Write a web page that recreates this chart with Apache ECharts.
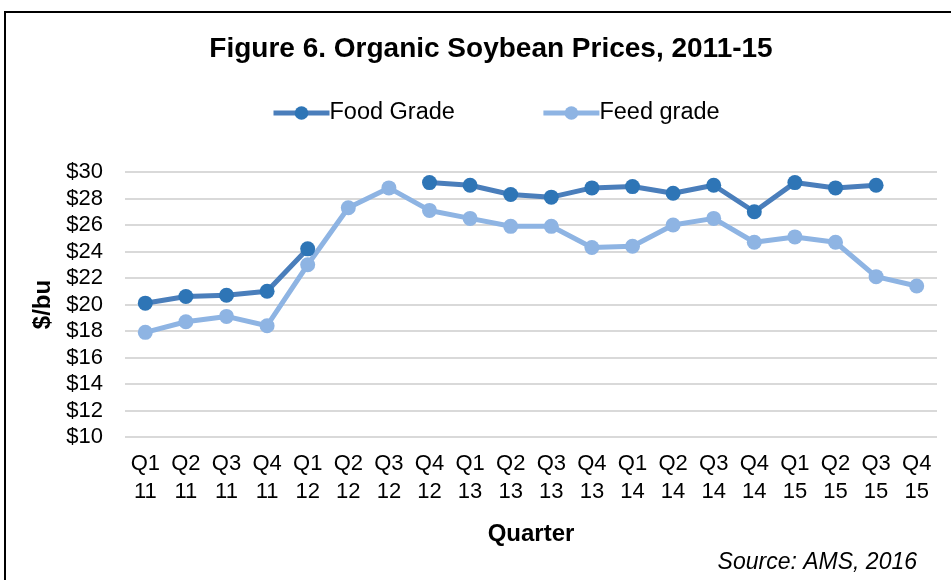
<!DOCTYPE html>
<html>
<head>
<meta charset="utf-8">
<script src="https://cdn.jsdelivr.net/npm/echarts@6/dist/echarts.min.js"></script>
<style>
  html, body { margin: 0; padding: 0; background: #fff; }
  #chart { width: 951px; height: 580px; }
</style>
</head>
<body>
<div id="chart"></div>
<script>
// quarters as shown under the axis
const quarters = ['Q1\n11', 'Q2\n11', 'Q3\n11', 'Q4\n11', 'Q1\n12', 'Q2\n12', 'Q3\n12', 'Q4\n12',
  'Q1\n13', 'Q2\n13', 'Q3\n13', 'Q4\n13', 'Q1\n14', 'Q2\n14', 'Q3\n14', 'Q4\n14',
  'Q1\n15', 'Q2\n15', 'Q3\n15', 'Q4\n15'];

// $/bu, null where there is no price
const foodGrade = [20.1, 20.6, 20.7, 21.0, 24.2, null, null, 29.2,
  29.0, 28.3, 28.1, 28.8, 28.9, 28.4, 29.0, 27.0,
  29.2, 28.8, 29.0, null];
const feedGrade = [17.9, 18.7, 19.1, 18.4, 23.0, 27.3, 28.8, 27.1,
  26.5, 25.9, 25.9, 24.3, 24.4, 26.0, 26.5, 24.7,
  25.1, 24.7, 22.1, 21.4];

const font = 'Liberation Sans, Arial, sans-serif';

const chart = echarts.init(document.getElementById('chart'));

chart.setOption({
  animation: false,
  textStyle: { fontFamily: font, color: '#000' },
  title: {
    text: 'Figure 6. Organic Soybean Prices, 2011-15',
    left: 486,
    top: 30,
    textAlign: 'center',
    textStyle: { fontFamily: font, fontSize: 28, fontWeight: 'bold', color: '#000' },
  },
  legend: {
    top: 96,
    left: 266,
    itemWidth: 56,
    itemHeight: 17,
    itemGap: 86,
    lineStyle: { width: 5 },
    textStyle: { fontFamily: font, fontSize: 23.5, color: '#000', padding: [0, 0, 0, -5] },
  },
  grid: {
    left: 125,
    right: 14,
    top: 172,
    bottom: 143,
  },
  xAxis: {
    type: 'category',
    data: quarters,
    name: 'Quarter',
    nameLocation: 'middle',
    nameGap: 85,
    nameTextStyle: { fontFamily: font, fontSize: 24, fontWeight: 'bold', color: '#000' },
    axisLine: { show: false },
    axisTick: { show: false },
    axisLabel: {
      interval: 0,
      fontFamily: font,
      fontSize: 22,
      lineHeight: 28,
      color: '#000',
      margin: 13,
    },
  },
  yAxis: {
    type: 'value',
    min: 10,
    max: 30,
    interval: 2,
    name: '$/bu',
    nameLocation: 'middle',
    nameRotate: 90,
    nameGap: 70,
    nameTextStyle: { fontFamily: font, fontSize: 24, fontWeight: 'bold', color: '#000' },
    axisLine: { show: false },
    axisTick: { show: false },
    splitLine: { lineStyle: { color: '#d9d9d9', width: 2 } },
    axisLabel: {
      formatter: '${value}',
      fontFamily: font,
      fontSize: 22,
      color: '#000',
      margin: 22,
    },
  },
  series: [
    {
      name: 'Food Grade',
      type: 'line',
      data: foodGrade,
      symbol: 'circle',
      symbolSize: 15,
      lineStyle: { color: '#4a7ebb', width: 5 },
      itemStyle: { color: '#2e75b6' },
    },
    {
      name: 'Feed grade',
      type: 'line',
      data: feedGrade,
      symbol: 'circle',
      symbolSize: 15,
      lineStyle: { color: '#8eb4e3', width: 5 },
      itemStyle: { color: '#8eb4e3' },
    },
  ],
  graphic: [
    {
      type: 'rect',
      shape: { x: 5, y: 12, width: 1000, height: 700 },
      style: { fill: null, stroke: '#000', lineWidth: 2 },
      silent: true,
    },
    {
      type: 'text',
      right: 34,
      top: 551,
      style: {
        text: 'Source: AMS, 2016',
        fontFamily: font,
        fontSize: 23,
        fontStyle: 'italic',
        fill: '#000',
      },
    },
  ],
});
</script>
</body>
</html>
